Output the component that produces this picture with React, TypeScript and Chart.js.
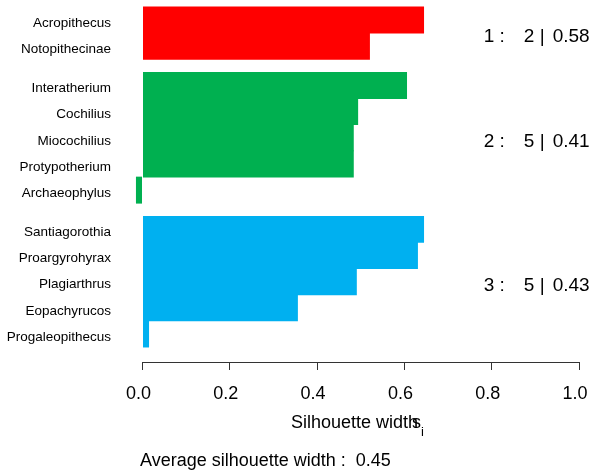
import React, { useEffect, useRef } from 'react';
import { Chart, registerables } from 'chart.js';

Chart.register(...registerables);

// ---- data ----
const cluster1Names = ['Acropithecus', 'Notopithecinae'];
const cluster1Widths = [0.645, 0.521];
const cluster2Names = ['Interatherium', 'Cochilius', 'Miocochilius', 'Protypotherium', 'Archaeophylus'];
const cluster2Widths = [0.606, 0.494, 0.484, 0.484, -0.015];
const cluster3Names = ['Santiagorothia', 'Proargyrohyrax', 'Plagiarthrus', 'Eopachyrucos', 'Progaleopithecus'];
const cluster3Widths = [0.645, 0.631, 0.491, 0.356, 0.015];
const clusterColors = ['#FF0000', '#00B050', '#00B0F0'];
const xTickValues = [0, 0.2, 0.4, 0.6, 0.8, 1.0];
const xAxisTitle = 'Silhouette width';
const xAxisSymbol = 's';
const xAxisSub = 'i';
const avgLabel = 'Average silhouette width : ';

const FONT = "'Liberation Sans', Arial, Helvetica, sans-serif";
const CLUSTER_GAP = 0.5;

export default function App() {
  const ref = useRef<HTMLCanvasElement>(null);

  useEffect(() => {
    const clusters = [
      { names: cluster1Names, widths: cluster1Widths },
      { names: cluster2Names, widths: cluster2Widths },
      { names: cluster3Names, widths: cluster3Widths },
    ];
    const labels: string[] = [];
    const positions: number[] = [];
    const values: number[] = [];
    const colors: string[] = [];
    const stats: { mid: number; n: number; avg: number }[] = [];
    let pos = 0;
    let total = 0;
    let count = 0;
    clusters.forEach((c, k) => {
      if (k > 0) pos += CLUSTER_GAP;
      const start = pos;
      let sum = 0;
      c.names.forEach((name, i) => {
        labels.push(name);
        positions.push(pos);
        values.push(c.widths[i]);
        colors.push(clusterColors[k]);
        sum += c.widths[i];
        pos += 1;
      });
      stats.push({ mid: (start + pos - 1) / 2, n: c.names.length, avg: sum / c.names.length });
      total += sum;
      count += c.names.length;
    });
    const overall = total / count;

    const textPlugin = {
      id: 'silText',
      afterDraw(chart: any) {
        const ctx = chart.ctx as CanvasRenderingContext2D;
        const ys = chart.scales.y;
        const xs = chart.scales.x;
        ctx.save();
        ctx.fillStyle = '#000';
        ctx.textBaseline = 'middle';
        ctx.textAlign = 'left';
        ctx.font = `19px ${FONT}`;
        const x0 = xs.getPixelForValue(0.8) - 8;
        stats.forEach((s, k) => {
          const yy = ys.getPixelForValue(s.mid) + 4;
          ctx.fillText(`${k + 1} :`, x0, yy);
          ctx.fillText(`${s.n}`, x0 + 40, yy);
          ctx.fillText('|', x0 + 56, yy);
          ctx.fillText(s.avg.toFixed(2), x0 + 69, yy);
        });
        // axis title
        ctx.font = `18px ${FONT}`;
        ctx.textBaseline = 'alphabetic';
        const titleX = 291;
        const titleY = 428;
        ctx.fillText(xAxisTitle, titleX, titleY);
        const w = ctx.measureText(xAxisTitle).width;
        ctx.fillText(xAxisSymbol, titleX + w - 6, titleY);
        const ws = ctx.measureText(xAxisSymbol).width;
        ctx.font = `13px ${FONT}`;
        ctx.fillText(xAxisSub, titleX + w - 6 + ws, titleY + 8);
        // average
        ctx.font = `18px ${FONT}`;
        ctx.fillText(avgLabel + ' ' + overall.toFixed(2), 140, 466);
        ctx.restore();
      },
    };

    const chart = new Chart(ref.current as HTMLCanvasElement, {
      type: 'bar',
      data: {
        datasets: [
          {
            data: positions.map((p, i) => ({ x: values[i], y: p })),
            backgroundColor: colors,
            borderWidth: 0,
            barPercentage: 1.03,
            categoryPercentage: 1,
            clip: false,
          } as any,
        ],
      },
      options: {
        indexAxis: 'y',
        responsive: false,
        animation: false,
        devicePixelRatio: 1,
        layout: { padding: { left: 0, right: 18, top: 7, bottom: 0 } },
        plugins: {
          legend: { display: false },
          tooltip: { enabled: false },
          title: { display: false },
        },
        scales: {
          x: {
            type: 'linear',
            position: 'bottom',
            min: 0,
            max: 1,
            afterBuildTicks: (s: any) => {
              s.ticks = xTickValues.map((v) => ({ value: v }));
            },
            afterFit: (s: any) => {
              s.height = 113;
              s.paddingLeft = 0;
              s.paddingRight = 0;
            },
            grid: { drawOnChartArea: false, drawTicks: true, tickLength: 8, color: '#333', lineWidth: 1 },
            border: { display: true, color: '#333', width: 1 },
            ticks: {
              color: '#000',
              font: { family: FONT, size: 18 },
              padding: 13,
              labelOffset: -4,
              autoSkip: false,
              maxRotation: 0,
              callback: (v: any) => Number(v).toFixed(1),
            },
          },
          y: {
            type: 'linear',
            reverse: true,
            offset: false,
            min: -0.5,
            max: 13.07,
            afterBuildTicks: (s: any) => {
              s.ticks = positions.map((v) => ({ value: v }));
            },
            afterFit: (s: any) => {
              s.width = 142.5;
              s.paddingTop = 0;
              s.paddingBottom = 0;
            },
            grid: { display: false, drawTicks: false },
            border: { display: false },
            ticks: {
              color: '#000',
              font: { family: FONT, size: 13.5 },
              padding: 31.5,
              labelOffset: 3,
              autoSkip: false,
              callback: (_v: any, i: number) => labels[i],
            },
          },
        },
      } as any,
      plugins: [textPlugin],
    });
    return () => chart.destroy();
  }, []);

  return (
    <div style={{ position: 'fixed', left: 0, top: 0, width: 597, height: 475, background: '#fff' }}>
      <canvas ref={ref} width={597} height={475} style={{ display: 'block' }} />
    </div>
  );
}
